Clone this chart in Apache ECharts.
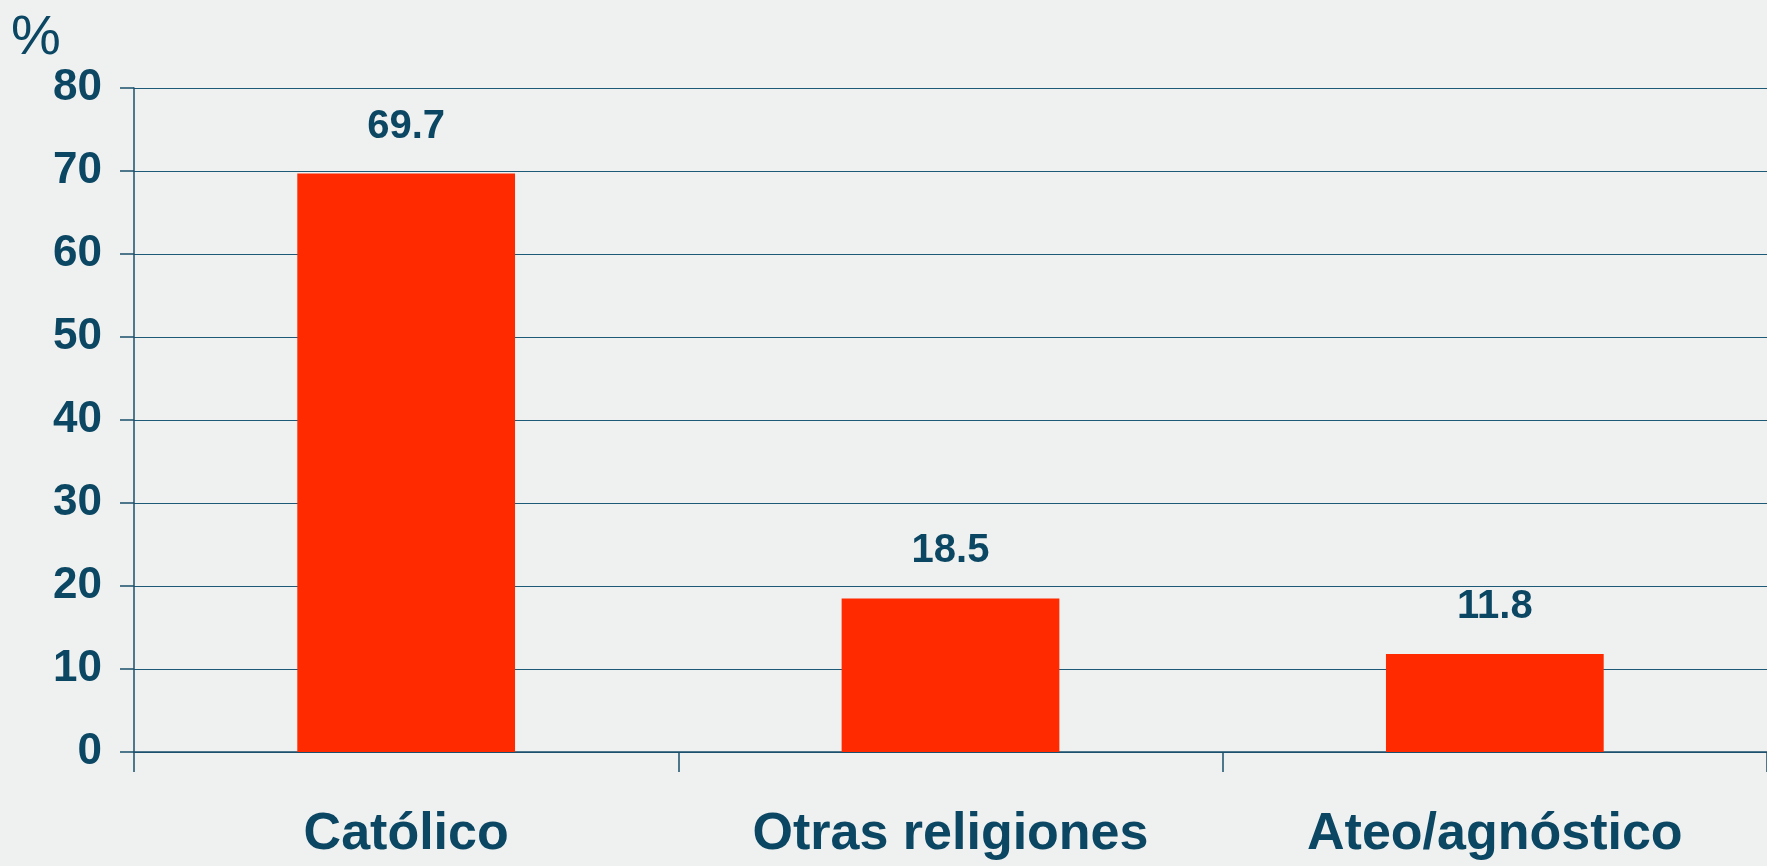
<!DOCTYPE html>
<html>
<head>
<meta charset="utf-8">
<script src="https://cdn.jsdelivr.net/npm/echarts@6/dist/echarts.min.js"></script>
<style>
html,body{margin:0;padding:0;background:#eff0f0;}
#c{width:1767px;height:866px;}
</style>
</head>
<body>
<div id="c"></div>
<script>
const categories = ['Católico', 'Otras religiones', 'Ateo/agnóstico'];
const values = [69.7, 18.5, 11.8];
const yTicks = [0, 10, 20, 30, 40, 50, 60, 70, 80];

const dark = '#0b4763';
const font = '"Liberation Sans", Arial, sans-serif';
const chart = echarts.init(document.getElementById('c'), null, {renderer: 'canvas'});
chart.setOption({
  backgroundColor: '#eff0f0',
  animation: false,
  grid: {left: 134, top: 88, bottom: 114, right: 0, containLabel: false},
  xAxis: {
    type: 'category',
    data: categories,
    axisLine: {show: true, lineStyle: {color: '#1b4f6b', width: 1.5}},
    axisTick: {show: true, interval: 0, length: 20, lineStyle: {color: '#1b4f6b', width: 1.5}},
    axisLabel: {
      interval: 0,
      margin: 57,
      color: dark,
      fontFamily: font,
      fontWeight: 'bold',
      fontSize: 52
    }
  },
  yAxis: {
    type: 'value',
    min: yTicks[0],
    max: yTicks[yTicks.length - 1],
    interval: 10,
    name: '%',
    nameLocation: 'end',
    nameGap: 20,
    nameTextStyle: {
      color: dark,
      fontFamily: font,
      fontSize: 56,
      align: 'center',
      padding: [0, 0, 0, -196]
    },
    axisLine: {show: true, lineStyle: {color: '#1b4f6b', width: 1.5}},
    axisTick: {show: true, length: 14, lineStyle: {color: '#1b4f6b', width: 1.5}},
    splitLine: {show: true, lineStyle: {color: '#1d5a78', width: 1.2}},
    axisLabel: {
      margin: 32,
      color: dark,
      fontFamily: font,
      fontWeight: 'bold',
      fontSize: 44
    }
  },
  series: [{
    type: 'bar',
    data: values,
    barWidth: '40%',
    itemStyle: {color: '#ff2a00'},
    label: {
      show: true,
      position: 'top',
      distance: 27,
      color: dark,
      fontFamily: font,
      fontWeight: 'bold',
      fontSize: 40,
      formatter: p => p.value.toFixed(1)
    }
  }]
});
</script>
</body>
</html>
